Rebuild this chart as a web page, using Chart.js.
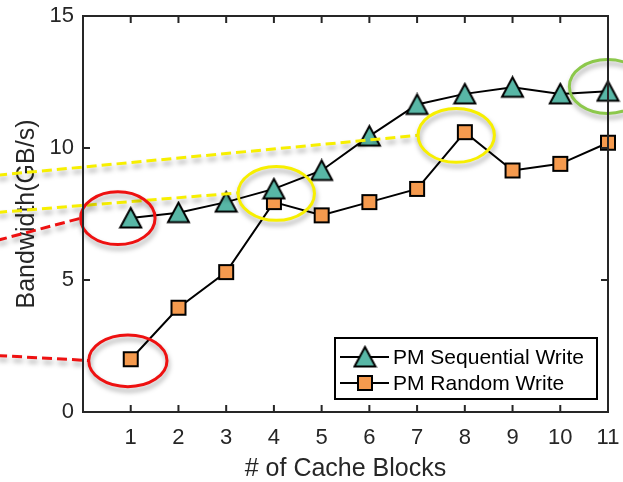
<!DOCTYPE html>
<html>
<head>
<meta charset="utf-8">
<script src="https://cdn.jsdelivr.net/npm/chart.js@4.4.1/dist/chart.umd.min.js"></script>
<style>
  html, body { margin: 0; padding: 0; background: #fff; }
  #wrap { width: 623px; height: 482px; }
</style>
</head>
<body>
<div id="wrap"><canvas id="bwChart" width="623" height="482"></canvas></div>
<script>
// data
const cacheBlocks = [1, 2, 3, 4, 5, 6, 7, 8, 9, 10, 11];
const seqWrite = [7.35, 7.55, 7.95, 8.45, 9.15, 10.45, 11.65, 12.05, 12.3, 12.05, 12.15];
const randWrite = [2.0, 3.95, 5.3, 7.95, 7.45, 7.95, 8.45, 10.6, 9.15, 9.4, 10.2];
const yTickValues = [0, 5, 10, 15];
const seriesNames = ['PM Sequential Write', 'PM Random Write'];

const TEAL = '#58b7a6';
const ORANGE = '#f59a4e';
const INK = '#262626';

// highlight rings + dashed pointers (data units, can go past the axes)
const rings = [
  { cx: 0.73, cy: 7.34, rx: 0.78, ry: 1.0, color: '#ee1111' },
  { cx: 0.94, cy: 1.94, rx: 0.82, ry: 0.98, color: '#ee1111' },
  { cx: 4.05, cy: 8.28, rx: 0.8, ry: 1.02, color: '#f7ef00' },
  { cx: 7.82, cy: 10.48, rx: 0.8, ry: 1.02, color: '#f7ef00' },
  { cx: 10.99, cy: 12.33, rx: 0.8, ry: 1.02, color: '#8cc84b' }
];
const pointers = [
  { from: [-1.8, 6.5], to: [-0.05, 7.34], color: '#ee1111' },
  { from: [-1.8, 2.14], to: [0.12, 1.95], color: '#ee1111' },
  { from: [-1.8, 7.56], to: [3.25, 8.3], color: '#f7ef00' },
  { from: [-1.8, 8.97], to: [7.02, 10.48], color: '#f7ef00' }
];

function makeTriangle() {
  var c = document.createElement('canvas');
  c.width = 25; c.height = 24;
  var g = c.getContext('2d');
  g.beginPath();
  g.moveTo(12.5, 2);
  g.lineTo(23, 21.5);
  g.lineTo(2, 21.5);
  g.closePath();
  g.fillStyle = TEAL;
  g.fill();
  g.lineWidth = 2;
  g.strokeStyle = '#000';
  g.stroke();
  return c;
}

function makeSquare() {
  var c = document.createElement('canvas');
  c.width = 18; c.height = 18;
  var g = c.getContext('2d');
  g.fillStyle = ORANGE;
  g.fillRect(2, 2, 14, 14);
  g.lineWidth = 2;
  g.strokeStyle = '#000';
  g.strokeRect(2, 2, 14, 14);
  return c;
}

const triImg = makeTriangle();
const sqImg = makeSquare();

function pairs(ys) {
  return cacheBlocks.map(function (x, i) { return { x: x, y: ys[i] }; });
}

// rings and dashed pointers
const highlightPlugin = {
  id: 'highlights',
  afterDatasetsDraw: function (chart) {
    var ctx = chart.ctx;
    var xs = chart.scales.x, ys = chart.scales.y;
    ctx.save();
    ctx.shadowColor = 'rgba(0,0,0,0.35)';
    ctx.shadowBlur = 5;
    ctx.shadowOffsetX = 1;
    ctx.shadowOffsetY = 4;
    ctx.lineWidth = 3;
    ctx.setLineDash([10, 5]);
    pointers.forEach(function (p) {
      ctx.strokeStyle = p.color;
      ctx.beginPath();
      ctx.moveTo(xs.getPixelForValue(p.from[0]), ys.getPixelForValue(p.from[1]));
      ctx.lineTo(xs.getPixelForValue(p.to[0]), ys.getPixelForValue(p.to[1]));
      ctx.stroke();
    });
    ctx.setLineDash([]);
    rings.forEach(function (r) {
      var cx = xs.getPixelForValue(r.cx), cy = ys.getPixelForValue(r.cy);
      var rx = Math.abs(xs.getPixelForValue(r.cx + r.rx) - cx);
      var ry = Math.abs(ys.getPixelForValue(r.cy + r.ry) - cy);
      ctx.strokeStyle = r.color;
      ctx.beginPath();
      ctx.ellipse(cx, cy, rx, ry, 0, 0, Math.PI * 2);
      ctx.stroke();
    });
    ctx.restore();
  }
};

// matlab style box with inward ticks, plus legend in the corner
const boxPlugin = {
  id: 'boxAxes',
  afterDraw: function (chart) {
    var ctx = chart.ctx;
    var a = chart.chartArea;
    var xs = chart.scales.x, ys = chart.scales.y;
    ctx.save();
    ctx.strokeStyle = INK;
    ctx.lineWidth = 2;
    ctx.strokeRect(a.left, a.top, a.right - a.left, a.bottom - a.top);
    ctx.beginPath();
    cacheBlocks.forEach(function (v) {
      var px = xs.getPixelForValue(v);
      ctx.moveTo(px, a.bottom); ctx.lineTo(px, a.bottom - 7);
      ctx.moveTo(px, a.top); ctx.lineTo(px, a.top + 7);
    });
    yTickValues.forEach(function (v) {
      var py = ys.getPixelForValue(v);
      ctx.moveTo(a.left, py); ctx.lineTo(a.left + 7, py);
      ctx.moveTo(a.right, py); ctx.lineTo(a.right - 7, py);
    });
    ctx.stroke();

    // legend
    var lx = 335, ly = 338, lw = 262, lh = 61;
    ctx.fillStyle = '#fff';
    ctx.fillRect(lx, ly, lw, lh);
    ctx.strokeStyle = '#000';
    ctx.lineWidth = 2;
    ctx.strokeRect(lx, ly, lw, lh);
    var imgs = [triImg, sqImg];
    seriesNames.forEach(function (name, i) {
      var cy = ly + 19 + i * 26;
      ctx.strokeStyle = '#000';
      ctx.lineWidth = 2;
      ctx.beginPath();
      ctx.moveTo(lx + 5, cy); ctx.lineTo(lx + 54, cy);
      ctx.stroke();
      ctx.drawImage(imgs[i], lx + 30 - imgs[i].width / 2, cy - imgs[i].height / 2);
      ctx.fillStyle = '#000';
      ctx.font = '21px "Liberation Sans", Arial, sans-serif';
      ctx.textAlign = 'left';
      ctx.textBaseline = 'middle';
      ctx.fillText(name, lx + 58, cy + 1);
    });
    ctx.restore();
  }
};

var ctx = document.getElementById('bwChart').getContext('2d');

var bwChart = new Chart(ctx, {
  type: 'line',
  data: {
    datasets: [{
      label: seriesNames[0],
      data: pairs(seqWrite),
      borderColor: '#000',
      borderWidth: 2,
      pointStyle: triImg,
      clip: false,
      fill: false
    }, {
      label: seriesNames[1],
      data: pairs(randWrite),
      borderColor: '#000',
      borderWidth: 2,
      pointStyle: sqImg,
      clip: false,
      fill: false
    }]
  },
  options: {
    responsive: false,
    animation: false,
    events: [],
    layout: { padding: { top: 16, right: 15, left: 0, bottom: 0 } },
    plugins: {
      legend: { display: false },
      tooltip: { enabled: false }
    },
    scales: {
      x: {
        type: 'linear',
        min: 0,
        max: 11,
        grid: { display: false, drawTicks: false },
        border: { display: false },
        ticks: {
          stepSize: 1,
          autoSkip: false,
          maxRotation: 0,
          padding: 13,
          color: INK,
          font: { family: '"Liberation Sans", Arial, sans-serif', size: 22 },
          callback: function (v) { return v === 0 ? '' : v; }
        },
        title: {
          display: true,
          text: '# of Cache Blocks',
          color: INK,
          padding: 0,
          font: { family: '"Liberation Sans", Arial, sans-serif', size: 25, lineHeight: 1 }
        },
        afterFit: function (s) {
          s.height = 70;
          s.paddingLeft = 0;
          s.paddingRight = 0;
        }
      },
      y: {
        min: 0,
        max: 15,
        grid: { display: false, drawTicks: false },
        border: { display: false },
        ticks: {
          stepSize: 5,
          padding: 9,
          color: INK,
          font: { family: '"Liberation Sans", Arial, sans-serif', size: 22 }
        },
        title: {
          display: true,
          text: 'Bandwidth(GB/s)',
          color: INK,
          padding: { top: 15, bottom: 0 },
          font: { family: '"Liberation Sans", Arial, sans-serif', size: 25, lineHeight: 1 }
        },
        afterFit: function (s) {
          s.width = 83;
          s.paddingTop = 0;
          s.paddingBottom = 0;
        }
      }
    }
  },
  plugins: [highlightPlugin, boxPlugin]
});
</script>
</body>
</html>
